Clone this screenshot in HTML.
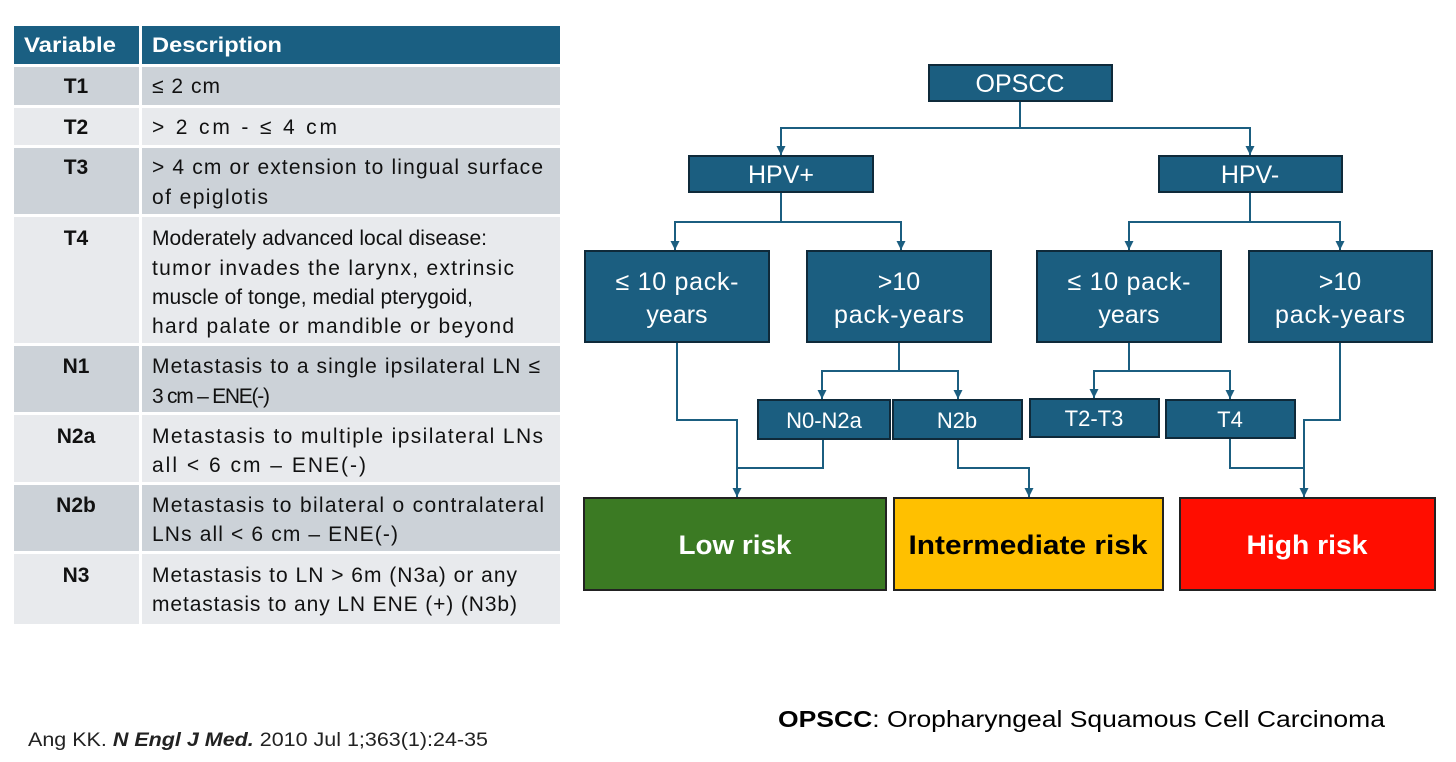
<!DOCTYPE html>
<html><head><meta charset="utf-8"><style>
body{margin:0;background:#fff;width:1456px;height:757px;overflow:hidden;font-family:"Liberation Sans",sans-serif}
</style></head><body>
<svg width="1456" height="757" xmlns="http://www.w3.org/2000/svg" font-family="Liberation Sans, sans-serif">
<defs><marker id="a" markerWidth="9" markerHeight="9" refX="9" refY="4.5" orient="auto" markerUnits="userSpaceOnUse"><path d="M0,0 L9,4.5 L0,9z" fill="#1b5e80"/></marker></defs>
<!-- table -->
<rect x="14" y="26" width="125" height="38" fill="#1a5f82"/><rect x="142" y="26" width="418" height="38" fill="#1a5f82"/>
<text x="24" y="52" fill="#fff" font-size="21" font-weight="bold" textLength="92" lengthAdjust="spacingAndGlyphs">Variable</text>
<text x="152" y="52" fill="#fff" font-size="21" font-weight="bold" textLength="130" lengthAdjust="spacingAndGlyphs">Description</text>
<g font-size="21" fill="#111">
<rect x="14" y="67" width="125" height="38" fill="#ccd2d8"/><rect x="142" y="67" width="418" height="38" fill="#ccd2d8"/>
<text x="76" y="93" text-anchor="middle" font-weight="bold">T1</text><text x="152" y="93" textLength="68">≤ 2 cm</text>
<rect x="14" y="108" width="125" height="37" fill="#e8eaed"/><rect x="142" y="108" width="418" height="37" fill="#e8eaed"/>
<text x="76" y="134" text-anchor="middle" font-weight="bold">T2</text><text x="152" y="134" textLength="185">&gt; 2 cm - ≤ 4 cm</text>
<rect x="14" y="148" width="125" height="66" fill="#ccd2d8"/><rect x="142" y="148" width="418" height="66" fill="#ccd2d8"/>
<text x="76" y="174" text-anchor="middle" font-weight="bold">T3</text><text x="152" y="174" textLength="391">&gt; 4 cm or extension to lingual surface</text><text x="152" y="204" textLength="116">of epiglotis</text>
<rect x="14" y="217" width="125" height="126" fill="#e8eaed"/><rect x="142" y="217" width="418" height="126" fill="#e8eaed"/>
<text x="76" y="245" text-anchor="middle" font-weight="bold">T4</text>
<text x="152" y="245" textLength="335">Moderately advanced local disease:</text><text x="152" y="275" textLength="362">tumor invades the larynx, extrinsic</text><text x="152" y="304" textLength="321">muscle of tonge, medial pterygoid,</text><text x="152" y="333" textLength="362">hard palate or mandible or beyond</text>
<rect x="14" y="346" width="125" height="66" fill="#ccd2d8"/><rect x="142" y="346" width="418" height="66" fill="#ccd2d8"/>
<text x="76" y="373" text-anchor="middle" font-weight="bold">N1</text><text x="152" y="373" textLength="388">Metastasis to a single ipsilateral LN ≤</text><text x="152" y="403" textLength="118">3 cm –  ENE(-)</text>
<rect x="14" y="415" width="125" height="67" fill="#e8eaed"/><rect x="142" y="415" width="418" height="67" fill="#e8eaed"/>
<text x="76" y="443" text-anchor="middle" font-weight="bold">N2a</text><text x="152" y="443" textLength="391">Metastasis to multiple ipsilateral LNs</text><text x="152" y="472" textLength="214">all &lt; 6 cm – ENE(-)</text>
<rect x="14" y="485" width="125" height="66" fill="#ccd2d8"/><rect x="142" y="485" width="418" height="66" fill="#ccd2d8"/>
<text x="76" y="512" text-anchor="middle" font-weight="bold">N2b</text><text x="152" y="512" textLength="392">Metastasis to bilateral o contralateral</text><text x="152" y="541" textLength="246">LNs all  &lt;  6 cm – ENE(-)</text>
<rect x="14" y="554" width="125" height="70" fill="#e8eaed"/><rect x="142" y="554" width="418" height="70" fill="#e8eaed"/>
<text x="76" y="582" text-anchor="middle" font-weight="bold">N3</text><text x="152" y="582" textLength="365">Metastasis to LN &gt; 6m (N3a) or any</text><text x="152" y="611" textLength="365">metastasis to any LN ENE (+) (N3b)</text>
</g>
<!-- connectors -->
<g stroke="#1b5e80" stroke-width="2" fill="none">
<path d="M1020,101 V128 H781 V155" marker-end="url(#a)"/><path d="M1020,128 H1250 V155" marker-end="url(#a)"/>
<path d="M781,192 V222 H675 V250" marker-end="url(#a)"/><path d="M781,222 H901 V250" marker-end="url(#a)"/>
<path d="M1250,192 V222 H1129 V250" marker-end="url(#a)"/><path d="M1250,222 H1340 V250" marker-end="url(#a)"/>
<path d="M677,342 V420 H737 V497" marker-end="url(#a)"/><path d="M823,439 V468 H737"/>
<path d="M899,342 V371 H822 V399" marker-end="url(#a)"/><path d="M899,371 H958 V399" marker-end="url(#a)"/>
<path d="M958,439 V468 H1029 V497" marker-end="url(#a)"/>
<path d="M1129,342 V371 H1094 V398" marker-end="url(#a)"/><path d="M1129,371 H1230 V399" marker-end="url(#a)"/>
<path d="M1230,438 V468 H1304"/><path d="M1340,342 V420 H1304 V497" marker-end="url(#a)"/>
</g>
<!-- boxes -->
<g fill="#1b5e80" stroke="#0f2a3a" stroke-width="2">
<rect x="929" y="65" width="183" height="36"/>
<rect x="689" y="156" width="184" height="36"/><rect x="1159" y="156" width="183" height="36"/>
<rect x="585" y="251" width="184" height="91"/><rect x="807" y="251" width="184" height="91"/>
<rect x="1037" y="251" width="184" height="91"/><rect x="1249" y="251" width="183" height="91"/>
<rect x="758" y="400" width="132" height="39"/><rect x="893" y="400" width="129" height="39"/>
<rect x="1030" y="399" width="129" height="38"/><rect x="1166" y="400" width="129" height="38"/>
</g>
<rect x="584" y="498" width="302" height="92" fill="#3b7a23" stroke="#222" stroke-width="2"/>
<rect x="894" y="498" width="269" height="92" fill="#ffc000" stroke="#222" stroke-width="2"/>
<rect x="1180" y="498" width="255" height="92" fill="#ff0d00" stroke="#222" stroke-width="2"/>
<g fill="#fff" font-size="25" text-anchor="middle">
<text x="1020" y="92">OPSCC</text>
<text x="781" y="183">HPV+</text><text x="1250" y="183">HPV-</text>
<text x="677" y="290" textLength="123">≤ 10 pack-</text><text x="677" y="323">years</text>
<text x="899" y="290">&gt;10</text><text x="899" y="323" textLength="130">pack-years</text>
<text x="1129" y="290" textLength="123">≤ 10 pack-</text><text x="1129" y="323">years</text>
<text x="1340" y="290">&gt;10</text><text x="1340" y="323" textLength="130">pack-years</text>
<text x="824" y="428" font-size="22">N0-N2a</text><text x="957" y="428" font-size="22">N2b</text>
<text x="1094" y="426" font-size="22">T2-T3</text><text x="1230" y="427" font-size="22">T4</text>
<text x="735" y="554" font-size="27" font-weight="bold" textLength="113" lengthAdjust="spacingAndGlyphs">Low risk</text>
<text x="1028" y="554" font-size="27" font-weight="bold" fill="#000" textLength="239" lengthAdjust="spacingAndGlyphs">Intermediate risk</text>
<text x="1307" y="554" font-size="27" font-weight="bold" textLength="121" lengthAdjust="spacingAndGlyphs">High risk</text>
</g>
<text x="778" y="727" font-size="23" fill="#000" textLength="607" lengthAdjust="spacingAndGlyphs"><tspan font-weight="bold">OPSCC</tspan>: Oropharyngeal Squamous Cell Carcinoma</text>
<text x="28" y="746" font-size="19" fill="#222" textLength="460" lengthAdjust="spacingAndGlyphs">Ang KK. <tspan font-weight="bold" font-style="italic">N Engl J Med.</tspan> 2010 Jul 1;363(1):24-35</text>
</svg>
</body></html>
